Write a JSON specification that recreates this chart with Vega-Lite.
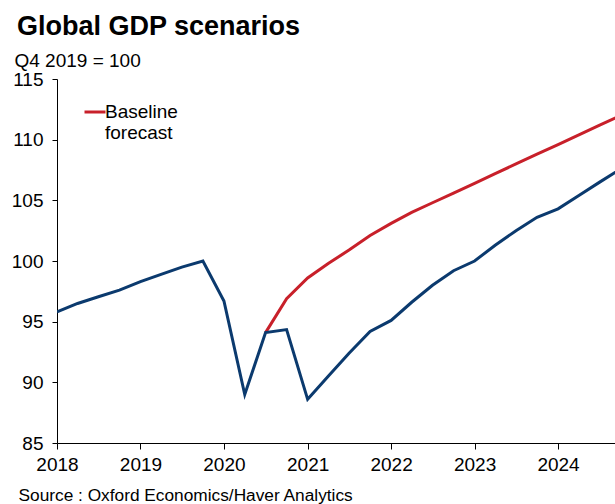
{
  "$schema": "https://vega.github.io/schema/vega-lite/v6.json",
  "width": 558,
  "height": 364,
  "autosize": {"type": "none"},
  "padding": {"left": 57, "top": 79, "right": 0, "bottom": 61},
  "background": "white",
  "config": {"font": "Liberation Sans", "view": {"stroke": null}},
  "title": {"text": "Global GDP scenarios", "anchor": "start", "frame": "group", "fontSize": 27, "fontWeight": "bold", "color": "black", "dx": -40, "offset": 10},
  "data": {"values": [
    {"date": "2018-01-01", "series": "Scenario", "value": 95.8},
    {"date": "2018-04-01", "series": "Scenario", "value": 96.5},
    {"date": "2018-07-01", "series": "Scenario", "value": 97.05},
    {"date": "2018-10-01", "series": "Scenario", "value": 97.6},
    {"date": "2019-01-01", "series": "Scenario", "value": 98.3},
    {"date": "2019-04-01", "series": "Scenario", "value": 98.9},
    {"date": "2019-07-01", "series": "Scenario", "value": 99.5},
    {"date": "2019-10-01", "series": "Scenario", "value": 100.0},
    {"date": "2020-01-01", "series": "Scenario", "value": 96.7},
    {"date": "2020-04-01", "series": "Scenario", "value": 89.0},
    {"date": "2020-07-01", "series": "Scenario", "value": 94.1},
    {"date": "2020-10-01", "series": "Scenario", "value": 94.35},
    {"date": "2021-01-01", "series": "Scenario", "value": 88.6},
    {"date": "2021-04-01", "series": "Scenario", "value": 90.5},
    {"date": "2021-07-01", "series": "Scenario", "value": 92.4},
    {"date": "2021-10-01", "series": "Scenario", "value": 94.2},
    {"date": "2022-01-01", "series": "Scenario", "value": 95.1},
    {"date": "2022-04-01", "series": "Scenario", "value": 96.6},
    {"date": "2022-07-01", "series": "Scenario", "value": 98.0},
    {"date": "2022-10-01", "series": "Scenario", "value": 99.2},
    {"date": "2023-01-01", "series": "Scenario", "value": 100.0},
    {"date": "2023-04-01", "series": "Scenario", "value": 101.3},
    {"date": "2023-07-01", "series": "Scenario", "value": 102.5},
    {"date": "2023-10-01", "series": "Scenario", "value": 103.6},
    {"date": "2024-01-01", "series": "Scenario", "value": 104.3},
    {"date": "2024-04-01", "series": "Scenario", "value": 105.4},
    {"date": "2024-07-01", "series": "Scenario", "value": 106.5},
    {"date": "2024-10-01", "series": "Scenario", "value": 107.6},
    {"date": "2020-07-01", "series": "Baseline forecast", "value": 94.1},
    {"date": "2020-10-01", "series": "Baseline forecast", "value": 96.9},
    {"date": "2021-01-01", "series": "Baseline forecast", "value": 98.6},
    {"date": "2021-04-01", "series": "Baseline forecast", "value": 99.8},
    {"date": "2021-07-01", "series": "Baseline forecast", "value": 100.9},
    {"date": "2021-10-01", "series": "Baseline forecast", "value": 102.1},
    {"date": "2022-01-01", "series": "Baseline forecast", "value": 103.1},
    {"date": "2022-04-01", "series": "Baseline forecast", "value": 104.0},
    {"date": "2022-07-01", "series": "Baseline forecast", "value": 104.8},
    {"date": "2022-10-01", "series": "Baseline forecast", "value": 105.6},
    {"date": "2023-01-01", "series": "Baseline forecast", "value": 106.4},
    {"date": "2023-04-01", "series": "Baseline forecast", "value": 107.2},
    {"date": "2023-07-01", "series": "Baseline forecast", "value": 108.0},
    {"date": "2023-10-01", "series": "Baseline forecast", "value": 108.8},
    {"date": "2024-01-01", "series": "Baseline forecast", "value": 109.6},
    {"date": "2024-04-01", "series": "Baseline forecast", "value": 110.4},
    {"date": "2024-07-01", "series": "Baseline forecast", "value": 111.2},
    {"date": "2024-10-01", "series": "Baseline forecast", "value": 112.0}
  ]},
  "encoding": {
    "x": {
      "field": "date", "type": "temporal",
      "scale": {"type": "utc", "domain": [{"year": 2018, "month": 1, "date": 1, "utc": true}, {"year": 2024, "month": 9, "date": 6, "utc": true}]},
      "axis": {
        "values": [{"year": 2018, "utc": true}, {"year": 2019, "utc": true}, {"year": 2020, "utc": true}, {"year": 2021, "utc": true}, {"year": 2022, "utc": true}, {"year": 2023, "utc": true}, {"year": 2024, "utc": true}],
        "format": "%Y", "formatType": "utc",
        "grid": false, "domainColor": "black", "tickColor": "black", "tickSize": 6,
        "labelFontSize": 19, "labelColor": "black", "labelPadding": 6, "labelFlush": false, "labelOverlap": false,
        "title": "Source : Oxford Economics/Haver Analytics",
        "titleFontSize": 17.3, "titleFontWeight": "normal", "titleColor": "black",
        "titleX": -39, "titleY": 57.5, "titleAlign": "left", "titleBaseline": "alphabetic", "titleAnchor": "start"
      }
    },
    "y": {
      "field": "value", "type": "quantitative",
      "scale": {"domain": [85, 115], "nice": false, "zero": false},
      "axis": {
        "values": [85, 90, 95, 100, 105, 110, 115],
        "grid": false, "domainColor": "black", "tickColor": "black", "tickSize": 5,
        "labelFontSize": 19, "labelColor": "black", "labelPadding": 9,
        "title": "Q4 2019 = 100", "titleAngle": 0, "titleFontSize": 19, "titleFontWeight": "normal", "titleColor": "black",
        "titleX": -43, "titleY": -13, "titleAlign": "left", "titleBaseline": "alphabetic"
      }
    },
    "color": {
      "field": "series", "type": "nominal",
      "scale": {"domain": ["Baseline forecast", "Scenario"], "range": ["#C8202A", "#0B3A6E"]},
      "legend": {
        "values": ["Baseline forecast"], "orient": "none", "legendX": 26, "legendY": 21, "title": null,
        "symbolType": "stroke", "symbolSize": 441, "symbolStrokeWidth": 3, "padding": 0,
        "labelFontSize": 19, "labelColor": "black", "labelExpr": "['Baseline', 'forecast']", "labelOffset": -2, "labelBaseline": "alphabetic", "labelLimit": 0,
        "encode": {"labels": {"update": {"dy": {"value": 6}}}}
      }
    }
  },
  "layer": [
    {"transform": [{"filter": "datum.series === 'Baseline forecast'"}], "mark": {"type": "line", "strokeWidth": 3, "clip": true}},
    {"transform": [{"filter": "datum.series === 'Scenario'"}], "mark": {"type": "line", "strokeWidth": 3, "clip": true}}
  ]
}
